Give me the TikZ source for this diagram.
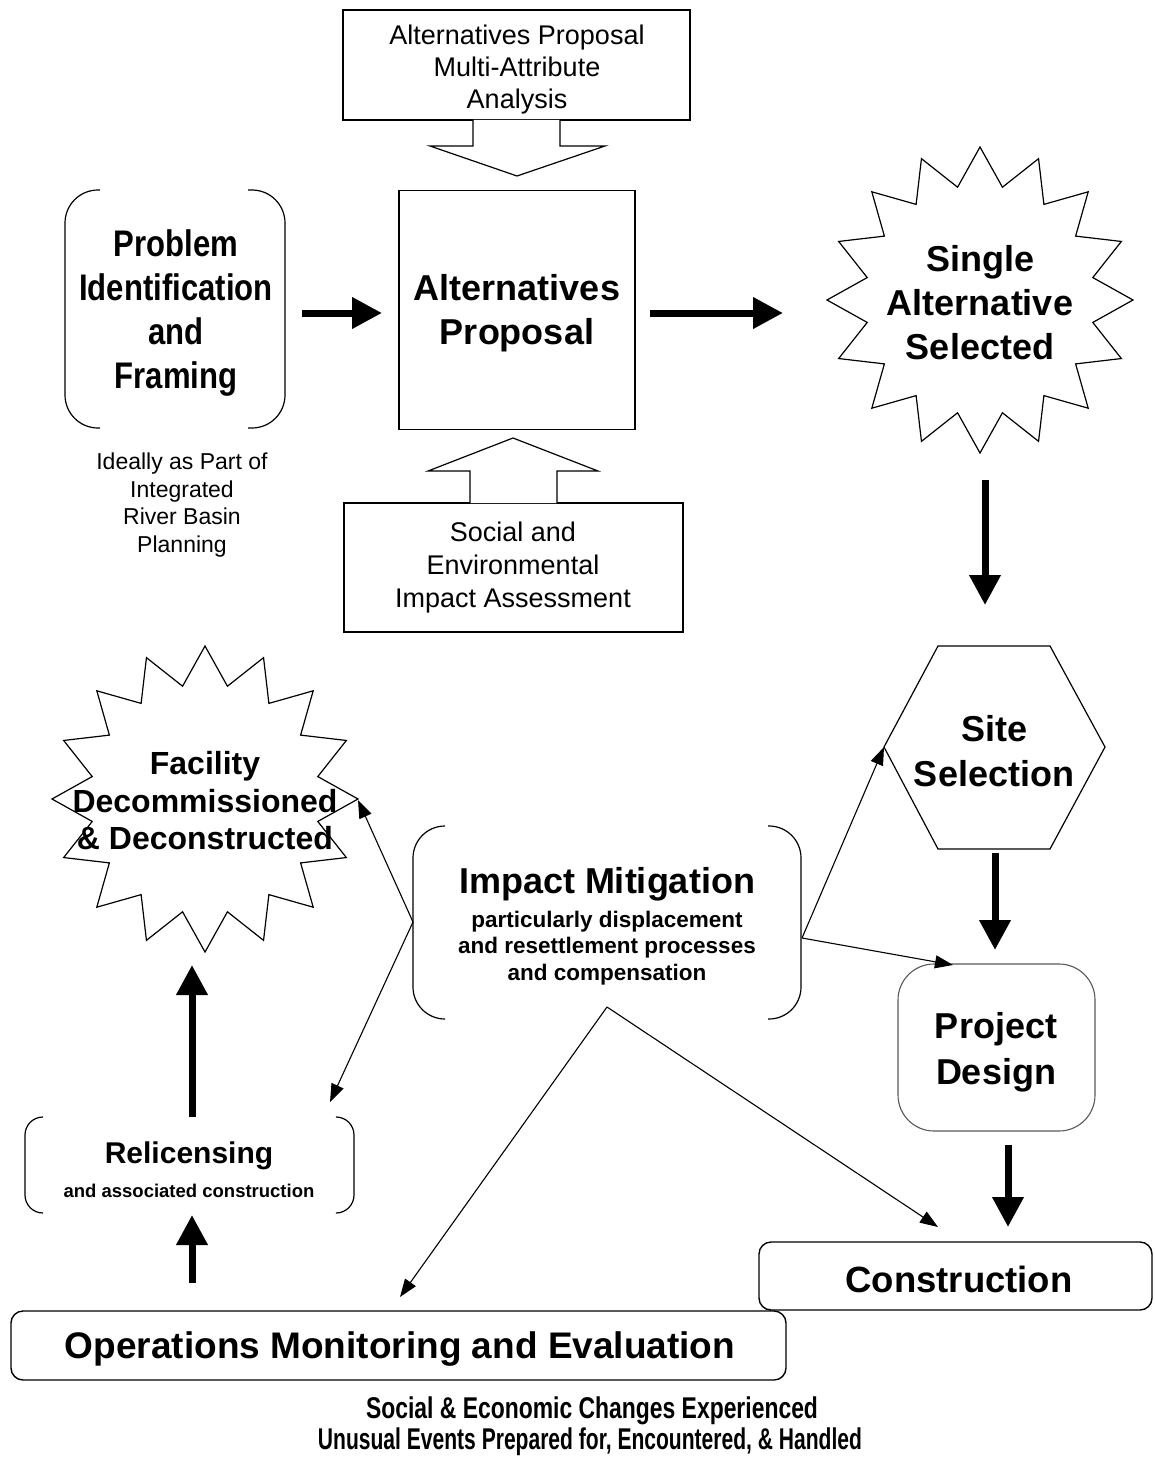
\documentclass[tikz,border=0pt]{standalone}
\usepackage{fontspec}
\usepackage{graphicx}
\setmainfont{Liberation Sans}
\newfontfamily\condfont[FakeStretch=0.84]{Liberation Sans}
\usetikzlibrary{arrows.meta}
\newcommand\myfs[2]{\fontsize{#1}{#2}\selectfont}
\begin{document}
\begin{tikzpicture}[x=1pt,y=-1pt,
  thinline/.style={line width=1.2pt},
  box/.style={draw, line width=1.2pt, inner sep=0pt},
  lbl/.style={align=center, inner sep=0pt},
  bigarrow/.style={line width=7pt, -{Triangle[length=30pt,width=30pt]}},
  thinarrow/.style={line width=1.1pt, -{Triangle[length=18pt,width=13pt]}},
  bracket/.style={line width=1.2pt},
]
\useasboundingbox[fill=white] (0,0) rectangle (1154,1458);

% ---------- top box with block arrow ----------
\node[box, minimum width=347pt, minimum height=110pt] (mabox) at (516.5,65) {};
\node[lbl, font=\myfs{27}{32}] (matext) at (517,70) {Alternatives Proposal\\Multi-Attribute\\Analysis};
\draw[thinline, fill=white] (473,120) -- (473,146) -- (430,146) -- (517,176) -- (605,146) -- (560,146) -- (560,120);

% ---------- Alternatives Proposal ----------
\node[box, minimum width=236pt, minimum height=239pt] (altbox) at (517,310) {};
\node[lbl, font=\bfseries\myfs{36}{44}] (alttext) at (517,313) {Alternatives\\Proposal};

% ---------- bottom box with block arrow ----------
\node[box, minimum width=339pt, minimum height=129pt] (sebox) at (513.5,567.5) {};
\node[lbl, font=\myfs{27}{33}] (setext) at (513,568) {Social and\\Environmental\\Impact Assessment};
\draw[thinline, fill=white] (470,503) -- (470,471) -- (428,471) -- (513,438) -- (598,471) -- (557,471) -- (557,503);

% ---------- Problem Identification ----------
\draw[bracket, rounded corners=33pt] (100,190) -- (65,190) -- (65,428) -- (100,428);
\draw[bracket, rounded corners=33pt] (248,190) -- (285,190) -- (285,428) -- (248,428);
\node[lbl, font=\condfont\bfseries\myfs{37}{44}] (probtext) at (176,313) {Problem\\Identification\\and\\Framing};
\node[lbl, font=\myfs{23}{27.5}] (ideal) at (182,505) {Ideally as Part of\\Integrated\\River Basin\\Planning};

% ---------- Single Alternative Selected ----------
\begin{scope}[shift={(980,300)}]
\draw[thinline, fill=white] (90:153) \foreach \k in {0,...,15}{ -- ({101.25+22.5*\k}:115) -- ({112.5+22.5*\k}:153)} -- cycle;
\end{scope}
\node[lbl, font=\bfseries\myfs{36}{44}] (single) at (980,303) {Single\\Alternative\\Selected};

% ---------- Site Selection ----------
\draw[thinline, fill=white] (938,646) -- (1050,646) -- (1105,747) -- (1050,849) -- (938,849) -- (884,747) -- cycle;
\node[lbl, font=\bfseries\myfs{36}{45}] (site) at (994,751) {Site\\Selection};

% ---------- Project Design ----------
\node[draw=black!65, line width=1.1pt, rounded corners=36pt, minimum width=197pt, minimum height=167pt] (pdbox) at (996.5,1047.5) {};
\node[lbl, font=\bfseries\myfs{36}{46}] (pdtext) at (996,1052) {Project\\Design};

% ---------- Construction ----------
\node[box, line width=1.4pt, rounded corners=12pt, minimum width=393pt, minimum height=68pt] (conbox) at (955.5,1276) {};
\node[lbl, font=\bfseries\myfs{36.5}{44}] (context) at (959,1279) {Construction};

% ---------- Operations ----------
\node[box, line width=1.4pt, rounded corners=12pt, minimum width=775pt, minimum height=69pt] (opsbox) at (398.5,1345.5) {};
\node[lbl, font=\bfseries\myfs{37}{44}] (opstext) at (400,1349) {Operations Monitoring and Evaluation};

% ---------- Facility Decommissioned ----------
\begin{scope}[shift={(205,799)}]
\draw[thinline, fill=white] (90:153) \foreach \k in {0,...,15}{ -- ({101.25+22.5*\k}:115) -- ({112.5+22.5*\k}:153)} -- cycle;
\end{scope}
\node[lbl, font=\bfseries\myfs{32}{37.5}] (facility) at (205,801) {Facility\\Decommissioned\\\& Deconstructed};

% ---------- Impact Mitigation ----------
\draw[bracket, rounded corners=32pt] (445,826) -- (413,826) -- (413,1019) -- (445,1019);
\draw[bracket, rounded corners=32pt] (768,826) -- (801,826) -- (801,1019) -- (768,1019);
\node[lbl, font=\bfseries\myfs{36}{40}] (imptitle) at (607,884) {Impact Mitigation};
\node[lbl, font=\bfseries\myfs{22.5}{26.5}] (impsub) at (607,948) {particularly displacement\\and resettlement processes\\and compensation};

% ---------- Relicensing ----------
\draw[bracket, rounded corners=18pt] (43,1117) -- (25,1117) -- (25,1213) -- (43,1213);
\draw[bracket, rounded corners=18pt] (337,1117) -- (354,1117) -- (354,1213) -- (337,1213);
\node[lbl, font=\bfseries\myfs{30}{34}] (relic) at (189,1156) {Relicensing};
\node[lbl, font=\bfseries\myfs{18.5}{22}] (relsub) at (189,1191) {and associated construction};

% ---------- bottom notes ----------
\node[lbl] (note1) at (592,1411) {\resizebox{452pt}{\height}{\bfseries\myfs{30}{30}Social \& Economic Changes Experienced}};
\node[lbl] (note2) at (590,1442) {\resizebox{544pt}{\height}{\bfseries\myfs{30}{30}Unusual Events Prepared for, Encountered, \& Handled}};

% ---------- connector end points ----------
\coordinate (probR) at (302,313);
\coordinate (altL) at (382,313);
\coordinate (altR) at (650,313);
\coordinate (singleL) at (783,313);
\coordinate (singleB) at (985,480);
\coordinate (siteT) at (985,605);
\coordinate (siteB) at (995,853);
\coordinate (pdT) at (995,950);
\coordinate (pdB) at (1008,1145);
\coordinate (conT) at (1008,1227);
\coordinate (opsTop) at (192,1283);
\coordinate (relB) at (192,1215);
\coordinate (relT) at (192,1117);
\coordinate (facB) at (192,965);

\coordinate (impL) at (413,922);
\coordinate (impR) at (802,938);
\coordinate (impB) at (607,1007);
\coordinate (facR) at (358,800);
\coordinate (relTR) at (330,1102);
\coordinate (siteL) at (884,747);
\coordinate (pdTL) at (953,965);
\coordinate (conTL) at (938,1227);
\coordinate (opsT) at (400,1297);

% ---------- thick arrows ----------
\draw[bigarrow] (probR) -- (altL);
\draw[bigarrow] (altR) -- (singleL);
\draw[bigarrow] (singleB) -- (siteT);
\draw[bigarrow] (siteB) -- (pdT);
\draw[bigarrow] (pdB) -- (conT);
\draw[bigarrow] (opsTop) -- (relB);
\draw[bigarrow] (relT) -- (facB);

% ---------- thin arrows ----------
\draw[thinarrow] (impL) -- (facR);
\draw[thinarrow] (impL) -- (relTR);
\draw[thinarrow] (impR) -- (siteL);
\draw[thinarrow] (impR) -- (pdTL);
\draw[thinarrow] (impB) -- (conTL);
\draw[thinarrow] (impB) -- (opsT);
\end{tikzpicture}
\end{document}
